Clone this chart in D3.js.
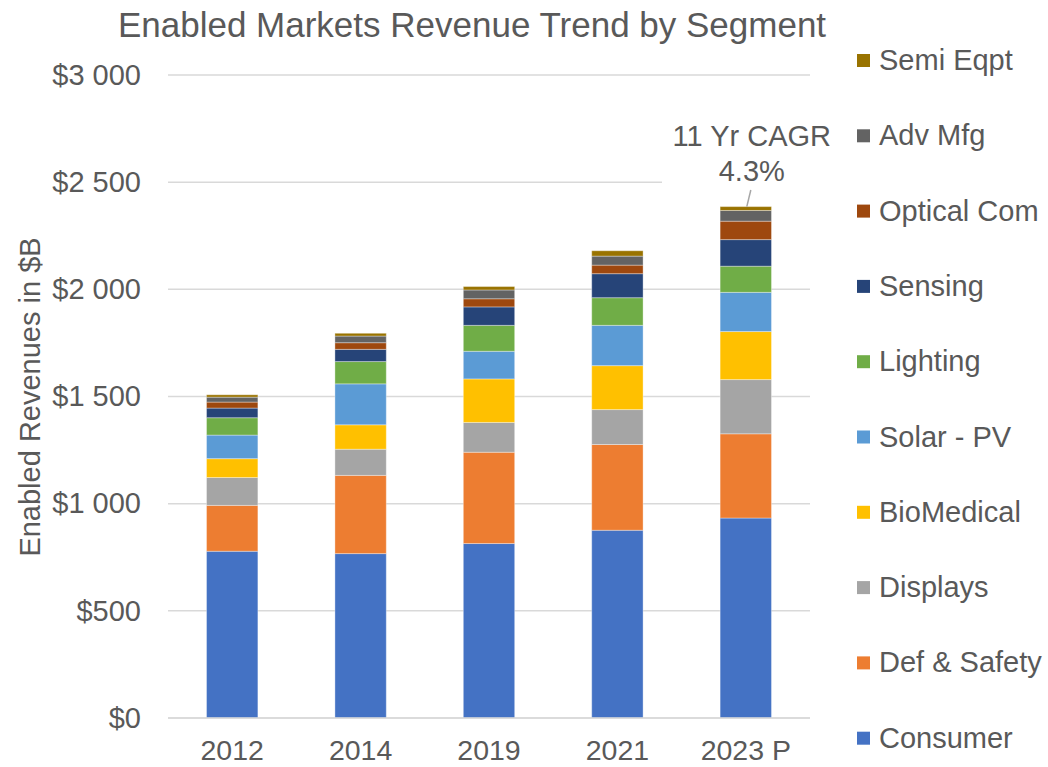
<!DOCTYPE html>
<html>
<head>
<meta charset="utf-8">
<script src="https://cdn.jsdelivr.net/npm/d3@7"></script>
<style>
  html, body { margin: 0; padding: 0; background: #fff; }
  svg { display: block; font-family: "Liberation Sans", Arial, Helvetica, sans-serif; }
</style>
</head>
<body>
<svg id="chart" width="1048" height="767"></svg>
<script>
// Enabled markets revenue ($B) by segment and year
const years = ["2012", "2014", "2019", "2021", "2023 P"];
const consumer   = [778, 767, 814, 876, 933];
const defSafety  = [214, 365, 426, 400, 393];
const displays   = [130, 122, 139, 163, 253];
const bioMedical = [88, 114, 203, 205, 224];
const solarPV    = [110, 191, 129, 188, 183];
const lighting   = [81, 104, 121, 129, 122];
const sensing    = [45, 57, 86, 112, 124];
const opticalCom = [28, 31, 38, 40, 86];
const advMfg     = [23, 31, 41, 42, 50];
const semiEqpt   = [11, 13, 16, 25, 18];
const yTicks = [0, 500, 1000, 1500, 2000, 2500, 3000];

// Segments in stacking order (bottom to top)
const segments = [
  { name: "Consumer",     values: consumer,   color: "#4472C4" },
  { name: "Def & Safety", values: defSafety,  color: "#ED7D31" },
  { name: "Displays",     values: displays,   color: "#A5A5A5" },
  { name: "BioMedical",   values: bioMedical, color: "#FFC000" },
  { name: "Solar - PV",   values: solarPV,    color: "#5B9BD5" },
  { name: "Lighting",     values: lighting,   color: "#70AD47" },
  { name: "Sensing",      values: sensing,    color: "#264478" },
  { name: "Optical Com",  values: opticalCom, color: "#9E480E" },
  { name: "Adv Mfg",      values: advMfg,     color: "#636363" },
  { name: "Semi Eqpt",    values: semiEqpt,   color: "#997300" }
];

const rows = years.map((yr, i) => {
  const r = { year: yr };
  segments.forEach(s => { r[s.name] = s.values[i]; });
  return r;
});

const svg = d3.select("#chart");
const textColor = "#595959";
const gridColor = "#D9D9D9";
const labelSize = "29px";

const x = d3.scaleBand().domain(years).range([168, 810]).paddingInner(0.6).paddingOuter(0.3);
const y = d3.scaleLinear().domain([0, 3000]).range([718, 75]);

// Gridlines
svg.append("g").selectAll("line").data(yTicks).join("line")
  .attr("x1", 168).attr("x2", 810)
  .attr("y1", d => y(d)).attr("y2", d => y(d))
  .attr("stroke", gridColor).attr("stroke-width", 1.5);

// Y axis tick labels
const fmt = v => "$" + d3.format(",")(v).replace(/,/g, " ");
const yAxis = d3.axisLeft(y).tickValues(yTicks).tickSize(0).tickPadding(0).tickFormat(fmt);
const gy = svg.append("g").attr("transform", "translate(141,0)").call(yAxis);
gy.select(".domain").remove();
gy.selectAll("text").attr("fill", textColor).style("font-size", labelSize)
  .style("font-family", "'Liberation Sans', Arial, sans-serif");

// Stacked bars
const stack = d3.stack().keys(segments.map(s => s.name));
const series = stack(rows);
svg.append("g").selectAll("g").data(series).join("g")
  .attr("fill", (d, i) => segments[i].color)
  .selectAll("rect").data(d => d).join("rect")
  .attr("x", d => x(d.data.year))
  .attr("width", x.bandwidth())
  .attr("y", d => y(d[1]))
  .attr("height", d => y(d[0]) - y(d[1]))
  .attr("stroke", "#fff").attr("stroke-opacity", 0.35).attr("stroke-width", 1);

// Baseline
svg.append("line").attr("x1", 168).attr("x2", 810)
  .attr("y1", y(0)).attr("y2", y(0)).attr("stroke", gridColor).attr("stroke-width", 1.5);

// X axis labels
const xAxis = d3.axisBottom(x).tickSize(0).tickPadding(0);
const gx = svg.append("g").attr("transform", "translate(0,740)").call(xAxis);
gx.select(".domain").remove();
gx.selectAll("text").attr("fill", textColor).attr("dy", "0.71em").style("font-size", "28.5px")
  .style("font-family", "'Liberation Sans', Arial, sans-serif");

// Title
svg.append("text").attr("x", 472).attr("y", 37).attr("text-anchor", "middle")
  .attr("fill", textColor).style("font-size", "35px")
  .text("Enabled Markets Revenue Trend by Segment");

// Y axis title
svg.append("text").attr("transform", "translate(40,397) rotate(-90)")
  .attr("text-anchor", "middle").attr("fill", textColor).style("font-size", "29px")
  .text("Enabled Revenues in $B");

// CAGR callout on the last bar
const totals = rows.map(r => d3.sum(segments, s => r[s.name]));
const cagr = Math.pow(totals[totals.length - 1] / totals[0], 1 / 11) - 1;
const lastYear = years[years.length - 1];
const topY = y(totals[totals.length - 1]);
const cx = x(lastYear) + x.bandwidth() / 2;
svg.append("rect").attr("x", 662).attr("y", 118).attr("width", 180).attr("height", 70).attr("fill", "#fff");
svg.append("line").attr("x1", cx + 5).attr("y1", 190).attr("x2", cx + 1).attr("y2", topY)
  .attr("stroke", "#A6A6A6").attr("stroke-width", 1.5);
const callout = svg.append("text").attr("text-anchor", "middle").attr("fill", textColor).style("font-size", labelSize);
callout.append("tspan").attr("x", cx + 6).attr("y", 146).text("11 Yr CAGR");
callout.append("tspan").attr("x", cx + 6).attr("y", 181).text(d3.format(".1%")(cagr));

// Legend (top segment first)
const legend = svg.append("g").selectAll("g").data(segments.slice().reverse()).join("g")
  .attr("transform", (d, i) => `translate(857, ${60 + i * 75.3})`);
legend.append("rect").attr("x", 0).attr("y", -6).attr("width", 13).attr("height", 13)
  .attr("fill", d => d.color);
legend.append("text").attr("x", 22).attr("y", 10).attr("fill", textColor).style("font-size", labelSize)
  .text(d => d.name);
</script>
</body>
</html>
